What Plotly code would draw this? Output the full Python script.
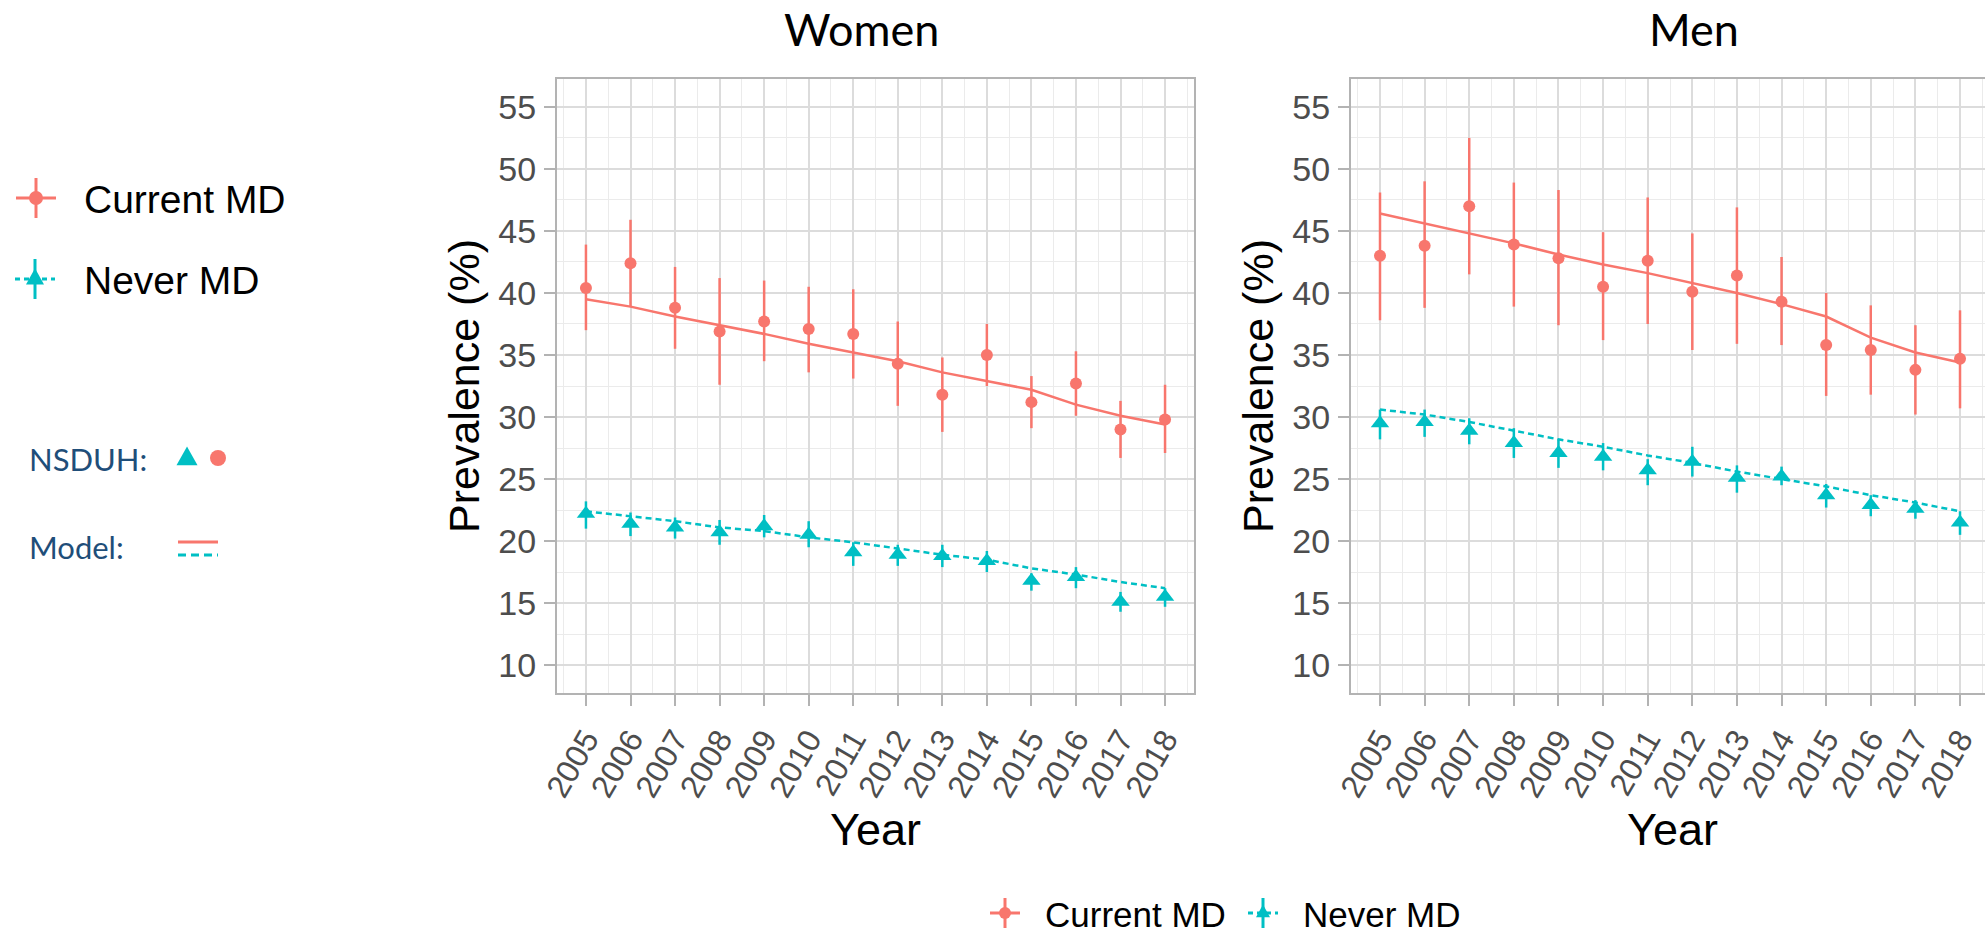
import plotly.graph_objects as go

# ---------------- data ----------------
years = list(range(2005, 2019))
year_labels = [str(y) for y in years]
y_ticks = [10, 15, 20, 25, 30, 35, 40, 45, 50, 55]

women_current = [40.4, 42.4, 38.8, 36.9, 37.7, 37.1, 36.7, 34.3, 31.8, 35.0, 31.2, 32.7, 29.0, 29.8]
women_current_hi = [43.9, 45.9, 42.1, 41.2, 41.0, 40.5, 40.3, 37.7, 34.8, 37.5, 33.3, 35.3, 31.3, 32.6]
women_current_lo = [37.0, 38.9, 35.5, 32.6, 34.5, 33.6, 33.1, 30.9, 28.8, 32.5, 29.1, 30.1, 26.7, 27.1]
women_current_model = [39.5, 38.9, 38.1, 37.4, 36.7, 35.9, 35.2, 34.5, 33.6, 32.9, 32.2, 31.0, 30.1, 29.4]

women_never = [22.2, 21.4, 21.1, 20.7, 21.2, 20.5, 19.1, 18.9, 18.8, 18.4, 16.8, 17.1, 15.1, 15.5]
women_never_hi = [23.2, 22.3, 21.9, 21.7, 22.1, 21.6, 19.9, 19.7, 19.7, 19.2, 17.4, 17.9, 15.9, 16.2]
women_never_lo = [21.0, 20.4, 20.2, 19.7, 20.3, 19.5, 18.0, 18.0, 17.9, 17.5, 16.0, 16.2, 14.3, 14.7]
women_never_model = [22.4, 22.0, 21.6, 21.1, 20.8, 20.3, 19.9, 19.4, 18.9, 18.5, 17.8, 17.3, 16.7, 16.2]

men_current = [43.0, 43.8, 47.0, 43.9, 42.8, 40.5, 42.6, 40.1, 41.4, 39.3, 35.8, 35.4, 33.8, 34.7]
men_current_hi = [48.1, 49.0, 52.5, 48.9, 48.3, 44.9, 47.7, 44.8, 46.9, 42.9, 40.0, 39.0, 37.4, 38.6]
men_current_lo = [37.8, 38.8, 41.5, 38.9, 37.4, 36.2, 37.5, 35.4, 35.9, 35.8, 31.7, 31.8, 30.2, 30.7]
men_current_model = [46.4, 45.6, 44.8, 44.0, 43.1, 42.3, 41.6, 40.8, 40.0, 39.1, 38.1, 36.4, 35.2, 34.4]

men_never = [29.5, 29.6, 28.9, 27.9, 27.1, 26.8, 25.7, 26.4, 25.1, 25.2, 23.7, 22.9, 22.6, 21.5]
men_never_hi = [30.6, 30.6, 29.9, 29.1, 28.2, 27.9, 26.6, 27.6, 26.1, 26.0, 24.6, 23.7, 23.3, 22.4]
men_never_lo = [28.2, 28.4, 27.8, 26.7, 25.9, 25.7, 24.5, 25.2, 23.9, 24.5, 22.7, 22.0, 21.8, 20.5]
men_never_model = [30.6, 30.2, 29.6, 28.9, 28.2, 27.6, 26.9, 26.3, 25.6, 25.0, 24.4, 23.7, 23.1, 22.4]

series_names = ["Current MD", "Never MD"]
panel_titles = ["Women", "Men"]

# ---------------- styling ----------------
W, H = 1985, 932
RED = "#F8766D"
TEAL = "#00BFC4"
NAVY = "#1F4E79"
ARIAL = "Liberation Sans, Arial, sans-serif"
CALIBRI = "Lato, Open Sans, sans-serif"
GRID_MAJOR = "#dcdcdc"
GRID_MINOR = "#ebebeb"
BORDER = "#b3b3b3"
TICKTXT = "#4d4d4d"


def px(x):
    return x / W


def py(y):
    return 1 - y / H


fig = go.Figure()

panels = [
    ("x", "y", women_current, women_current_hi, women_current_lo, women_current_model,
     women_never, women_never_hi, women_never_lo, women_never_model),
    ("x2", "y2", men_current, men_current_hi, men_current_lo, men_current_model,
     men_never, men_never_hi, men_never_lo, men_never_model),
]

for (xa, ya, cur, cur_hi, cur_lo, cur_mod, nev, nev_hi, nev_lo, nev_mod) in panels:
    fig.add_trace(go.Scatter(x=years, y=cur_mod, mode="lines", xaxis=xa, yaxis=ya,
                             line=dict(color=RED, width=2.5), showlegend=False,
                             name=series_names[0] + " model"))
    fig.add_trace(go.Scatter(x=years, y=nev_mod, mode="lines", xaxis=xa, yaxis=ya,
                             line=dict(color=TEAL, width=2.5, dash="6px,4px"), showlegend=False,
                             name=series_names[1] + " model"))
    fig.add_trace(go.Scatter(
        x=years, y=cur, mode="markers", xaxis=xa, yaxis=ya, showlegend=False,
        name=series_names[0],
        marker=dict(symbol="circle", size=12, color=RED),
        error_y=dict(type="data", symmetric=False,
                     array=[h - v for h, v in zip(cur_hi, cur)],
                     arrayminus=[v - l for v, l in zip(cur, cur_lo)],
                     color=RED, thickness=2.5, width=0)))
    fig.add_trace(go.Scatter(
        x=years, y=nev, mode="markers", xaxis=xa, yaxis=ya, showlegend=False,
        name=series_names[1],
        marker=dict(symbol="triangle-up", size=16, color=TEAL),
        error_y=dict(type="data", symmetric=False,
                     array=[h - v for h, v in zip(nev_hi, nev)],
                     arrayminus=[v - l for v, l in zip(nev, nev_lo)],
                     color=TEAL, thickness=2.5, width=0)))

x_minor = [y - 0.5 for y in years] + [years[-1] + 0.5]
y_minor = [v + 2.5 for v in y_ticks[:-1]]

common_x = dict(
    tickmode="array", tickvals=years, ticktext=year_labels, tickangle=-60,
    tickfont=dict(family=ARIAL, size=32, color=TICKTXT),
    ticks="outside", ticklen=11, tickwidth=2, tickcolor=BORDER,
    showgrid=True, gridcolor=GRID_MAJOR, gridwidth=2,
    minor=dict(tickmode="array", tickvals=x_minor, showgrid=True, gridcolor=GRID_MINOR, gridwidth=1, ticks=""),
    showline=True, mirror=True, linecolor=BORDER, linewidth=2, zeroline=False,
    ticklabelstandoff=2, automargin=False,
)
common_y = dict(
    tickmode="array", tickvals=y_ticks, ticktext=[str(v) for v in y_ticks],
    tickfont=dict(family=ARIAL, size=34, color=TICKTXT),
    ticks="outside", ticklen=11, tickwidth=2, tickcolor=BORDER,
    showgrid=True, gridcolor=GRID_MAJOR, gridwidth=2,
    minor=dict(tickmode="array", tickvals=y_minor, showgrid=True, gridcolor=GRID_MINOR, gridwidth=1, ticks=""),
    showline=True, mirror=True, linecolor=BORDER, linewidth=2, zeroline=False,
    range=[7.75, 57.25], ticklabelstandoff=1, automargin=False,
)

fig.update_layout(
    width=W, height=H,
    margin=dict(l=0, r=0, t=0, b=0, autoexpand=False),
    paper_bgcolor="white", plot_bgcolor="white",
    showlegend=False,
    xaxis=dict(domain=[px(557), px(1194)], range=[2004.35, 2018.65], anchor="y", **common_x),
    yaxis=dict(domain=[py(693), py(79)], anchor="x", **common_y),
    xaxis2=dict(domain=[px(1351), 1.0], range=[2004.35, 2018.56], anchor="y2", **common_x),
    yaxis2=dict(domain=[py(693), py(79)], anchor="x2", **common_y),
)

ann = []
# panel titles
ann.append(dict(text=panel_titles[0], x=px(861), y=py(29), xref="paper", yref="paper",
                showarrow=False, xanchor="center", yanchor="middle",
                font=dict(family=CALIBRI, size=45, color="black")))
ann.append(dict(text=panel_titles[1], x=px(1694), y=py(29), xref="paper", yref="paper",
                showarrow=False, xanchor="center", yanchor="middle",
                font=dict(family=CALIBRI, size=45, color="black")))
# axis titles
for cx in (875.5, 1672):
    ann.append(dict(text="Year", x=px(cx), y=py(829), xref="paper", yref="paper",
                    showarrow=False, xanchor="center", yanchor="middle",
                    font=dict(family=ARIAL, size=45, color="black")))
for cx in (464, 1258):
    ann.append(dict(text="Prevalence (%)", x=px(cx), y=py(386), xref="paper", yref="paper",
                    showarrow=False, xanchor="center", yanchor="middle", textangle=-90,
                    font=dict(family=ARIAL, size=43, color="black")))

shapes = []


def key_glyph(cx, cy, half, color, dashed, marker, msize):
    # legend key: horizontal line, vertical line, and marker
    shapes.append(dict(type="line", xref="paper", yref="paper",
                       x0=px(cx - half), x1=px(cx + half), y0=py(cy), y1=py(cy),
                       line=dict(color=color, width=3, dash="5px,4px" if dashed else "solid")))
    shapes.append(dict(type="line", xref="paper", yref="paper",
                       x0=px(cx), x1=px(cx), y0=py(cy - half), y1=py(cy + half),
                       line=dict(color=color, width=3)))
    marker_glyph(cx, cy, color, marker, msize)


def marker_glyph(cx, cy, color, marker, msize):
    if marker == "circle":
        r = msize / 2
        shapes.append(dict(type="circle", xref="paper", yref="paper",
                           x0=px(cx - r), x1=px(cx + r), y0=py(cy - r), y1=py(cy + r),
                           fillcolor=color, line=dict(width=0)))
    else:
        hw = msize / 2
        h = msize * 0.9
        top = cy - h * 2 / 3
        bot = cy + h / 3
        path = "M {:.5f},{:.5f} L {:.5f},{:.5f} L {:.5f},{:.5f} Z".format(
            px(cx), py(top), px(cx + hw), py(bot), px(cx - hw), py(bot))
        shapes.append(dict(type="path", xref="paper", yref="paper", path=path,
                           fillcolor=color, line=dict(width=0)))


# left legend
key_glyph(36, 198, 20, RED, False, "circle", 14)
key_glyph(35, 279, 20, TEAL, True, "triangle", 18)
ann.append(dict(text=series_names[0], x=px(82), y=py(199), xref="paper", yref="paper",
                showarrow=False, xanchor="left", yanchor="middle",
                font=dict(family=ARIAL, size=39, color="black")))
ann.append(dict(text=series_names[1], x=px(82), y=py(280), xref="paper", yref="paper",
                showarrow=False, xanchor="left", yanchor="middle",
                font=dict(family=ARIAL, size=39, color="black")))

# NSDUH / Model annotation
ann.append(dict(text="NSDUH:", x=px(27), y=py(459), xref="paper", yref="paper",
                showarrow=False, xanchor="left", yanchor="middle",
                font=dict(family=CALIBRI, size=31, color=NAVY)))
ann.append(dict(text="Model:", x=px(27), y=py(547), xref="paper", yref="paper",
                showarrow=False, xanchor="left", yanchor="middle",
                font=dict(family=CALIBRI, size=31, color=NAVY)))
marker_glyph(187, 459, TEAL, "triangle", 21)
marker_glyph(218, 458, RED, "circle", 16)
shapes.append(dict(type="line", xref="paper", yref="paper", x0=px(178), x1=px(218),
                   y0=py(542), y1=py(542), line=dict(color=RED, width=3)))
shapes.append(dict(type="line", xref="paper", yref="paper", x0=px(178), x1=px(218),
                   y0=py(555), y1=py(555), line=dict(color=TEAL, width=3, dash="8px,5px")))

# bottom legend
key_glyph(1005, 913, 15, RED, False, "circle", 12)
key_glyph(1263, 913, 15, TEAL, True, "triangle", 14)
ann.append(dict(text=series_names[0], x=px(1043), y=py(914), xref="paper", yref="paper",
                showarrow=False, xanchor="left", yanchor="middle",
                font=dict(family=ARIAL, size=35, color="black")))
ann.append(dict(text=series_names[1], x=px(1301), y=py(914), xref="paper", yref="paper",
                showarrow=False, xanchor="left", yanchor="middle",
                font=dict(family=ARIAL, size=35, color="black")))

fig.update_layout(annotations=ann, shapes=shapes)

fig.write_html("out.html")
